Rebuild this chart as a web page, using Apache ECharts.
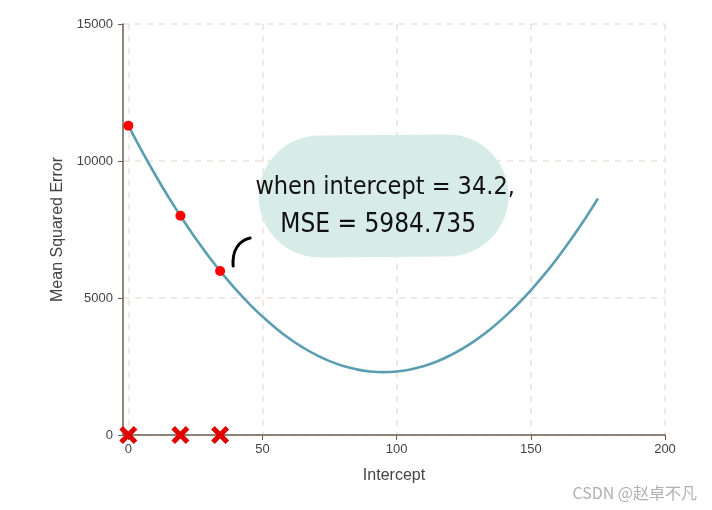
<!DOCTYPE html>
<html><head><meta charset="utf-8">
<script src="https://cdn.jsdelivr.net/npm/echarts@6/dist/echarts.min.js"></script>
<style>html,body{margin:0;padding:0;background:#fff}#c{width:712px;height:510px}</style>
</head><body><div id="c"></div>
<script>
// Curve: intercept vs MSE
const curveX = [0,5,10,15,20,25,30,35,40,45,50,55,60,65,70,75,80,85,90,95,100,105,110,115,120,125,130,135,140,145,150,155,160,165,170,175];
const curveY = [11290,10369,9498,8677,7906,7184,6511,5889,5316,4793,4319,3895,3521,3197,2922,2697,2522,2396,2320,2294,2317,2390,2513,2685,2907,3179,3501,3871,4293,4763,5283,5853,6473,7141,7861,8630];
// Sampled intercepts (red points) and their MSE
const pointX = [0, 19.4, 34.2];
const pointY = [11290, 8000, 5984.735];
const xTicks = [0, 50, 100, 150, 200];
const annotationLines = ['when intercept = 34.2,', 'MSE = 5984.735'];

const chart = echarts.init(document.getElementById('c'), null, {renderer: 'canvas'});
const axisCol = '#6e5c4f';
const gridCol = '#ebe1d9';
const crossPath = 'path://M2,0 L5,3 L8,0 L10,2 L7,5 L10,8 L8,10 L5,7 L2,10 L0,8 L3,5 L0,2 Z';

chart.setOption({
  animation: false,
  grid: {left: 123, right: 47, top: 24, bottom: 75},
  xAxis: {
    type: 'value', min: -2, max: 200,
    name: 'Intercept', nameLocation: 'middle', nameGap: 33,
    nameTextStyle: {color: '#444', fontSize: 16, fontFamily: 'Liberation Sans'},
    axisLine: {onZero: false, lineStyle: {color: axisCol, width: 1.5}},
    axisTick: {show: true, length: 5, lineStyle: {color: axisCol}, customValues: xTicks},
    axisLabel: {color: '#444', fontSize: 13, fontFamily: 'Liberation Sans', customValues: xTicks, margin: 8},
    splitLine: {show: true, lineStyle: {color: gridCol, type: [6, 6], width: 1.5}}
  },
  yAxis: {
    type: 'value', min: 0, max: 15000, interval: 5000,
    name: 'Mean Squared Error', nameLocation: 'middle', nameGap: 57,
    nameTextStyle: {color: '#444', fontSize: 16, fontFamily: 'Liberation Sans'},
    axisLine: {show: true, onZero: false, lineStyle: {color: axisCol, width: 1.5}},
    axisTick: {show: true, length: 5, lineStyle: {color: axisCol}},
    axisLabel: {color: '#444', fontSize: 13, fontFamily: 'Liberation Sans', margin: 10, formatter: v => String(v)},
    splitLine: {show: true, lineStyle: {color: gridCol, type: [6, 6], width: 1.5}}
  },
  series: [
    {type: 'line', data: curveX.map((x, i) => [x, curveY[i]]), smooth: true, showSymbol: false,
     lineStyle: {color: '#5b9db1', width: 2.6}, z: 2},
    {type: 'scatter', data: pointX.map((x, i) => [x, pointY[i]]), symbolSize: 10,
     itemStyle: {color: '#ff0000', opacity: 1}, z: 3},
    {type: 'scatter', data: pointX.map(x => [x, 0]), symbol: crossPath, symbolSize: 18,
     itemStyle: {color: '#e00000', opacity: 1}, z: 4, clip: false}
  ]
});

function drawAnnotation() {
  const p = chart.convertToPixel({gridIndex: 0}, [pointX[2], pointY[2]]);
  const ax = p[0], ay = p[1];
  chart.setOption({
    graphic: [
      {type: 'rect', x: ax + 38, y: ay - 135, rotation: 0.008,
       shape: {width: 250, height: 122, r: 61},
       style: {fill: '#d8ece7'}, z: 10},
      {type: 'text', x: ax + 165, y: ay - 84,
       style: {text: annotationLines[0], fill: '#111', font: '25px "DejaVu Sans Condensed", sans-serif', align: 'center', verticalAlign: 'middle'}, z: 11},
      {type: 'text', x: ax + 158, y: ay - 46,
       style: {text: annotationLines[1], fill: '#111', font: '26px "DejaVu Sans Condensed", sans-serif', align: 'center', verticalAlign: 'middle'}, z: 11},
      {type: 'bezierCurve', shape: {x1: ax + 13, y1: ay - 5, cpx1: ax + 12, cpy1: ay - 20, cpx2: ax + 18, cpy2: ay - 30, x2: ax + 30, y2: ay - 33},
       style: {stroke: '#000', lineWidth: 3, lineCap: 'round', fill: null}, z: 11},
      {type: 'text', right: 15, bottom: 9,
       style: {text: 'CSDN @赵卓不凡', fill: '#b0b0b0', font: '16px "Noto Sans CJK SC", sans-serif'}, z: 12}
    ]
  });
}
drawAnnotation();
</script>
</body></html>
